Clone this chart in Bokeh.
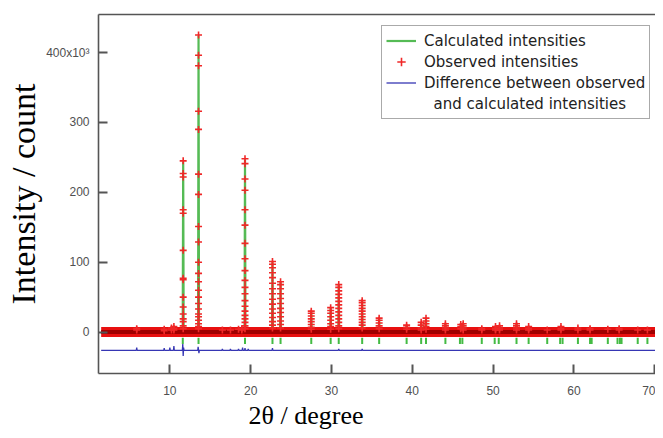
from bokeh.plotting import figure
from bokeh.models import LinearAxis, FixedTicker, Range1d, Legend, LegendItem, Title
from bokeh.embed import file_html
from bokeh.resources import INLINE

# ---- data (intensities in units of 10^3 counts, angles in degrees 2θ) ----
scan_start, scan_stop = 1.5, 70.95
background = 0.0

peak_pos = [5.9, 9.3, 10.2, 10.5, 11.65, 13.55, 16.5, 17.5, 18.5, 18.9, 19.3,
            22.7, 23.7, 27.5, 29.9, 30.9, 33.8, 35.9, 39.3, 41.1, 41.7, 44.1,
            46.0, 46.3, 48.6, 50.3, 50.8, 52.9, 54.4, 56.7, 58.4, 60.5, 62.0,
            64.2, 65.6, 67.9, 69.1]
peak_calc = [5, 4, 6, 8, 244, 424, 3, 3, 4, 5, 247, 100, 72, 30, 35, 68, 45,
             20, 10, 14, 20, 12, 11, 12, 5, 8, 9, 12, 8, 3, 8, 6, 5, 4, 5, 3, 3]
peak_obs = [
    [5, 3], [4, 2], [6, 3], [8, 5, 3],
    [245, 227, 222, 175, 170, 117, 77, 75, 50, 36, 26, 19, 15, 9, 5],
    [425, 396, 381, 316, 290, 226, 197, 151, 129, 100, 84, 72, 60, 50, 41, 33,
     26, 22, 17, 12, 8, 5],
    [3], [3], [4], [5, 3],
    [248, 241, 219, 203, 175, 153, 127, 105, 88, 74, 64, 55, 45, 37, 30, 24,
     19, 14, 9, 5],
    [101, 97, 92, 85, 78, 70, 62, 55, 47, 40, 33, 27, 21, 15, 10, 6],
    [72, 68, 62, 55, 48, 41, 34, 28, 22, 16, 11, 6],
    [30, 27, 23, 19, 15, 11, 7, 4],
    [35, 31, 27, 22, 17, 12, 8, 4],
    [68, 64, 59, 54, 49, 44, 39, 34, 29, 24, 19, 14, 9, 5],
    [45, 42, 38, 34, 30, 26, 22, 18, 14, 10, 6],
    [20, 17, 13, 9, 5],
    [10, 7, 4], [14, 10, 6, 3], [20, 16, 12, 8, 4], [12, 9, 6, 3],
    [11, 8, 5], [12, 9, 6, 3], [5, 3], [8, 5, 3], [9, 6, 3], [12, 9, 6, 3],
    [8, 5, 3], [3], [8, 5, 3], [6, 3], [5, 3], [4], [5, 3], [3], [3],
]
bragg_pos = [11.6, 13.55, 19.3, 22.7, 23.7, 27.5, 29.9, 30.9, 33.8, 35.9,
             39.3, 41.1, 41.7, 44.1, 45.9, 46.2, 48.6, 50.2, 50.7, 52.9, 54.4,
             56.7, 58.3, 58.6, 60.5, 62.0, 62.2, 64.2, 65.4, 65.7, 65.9, 67.9,
             69.1]
bragg_low, bragg_high = -17, -8
diff_x = [1.5, 5.85, 5.9, 5.95, 9.25, 9.3, 9.35, 9.95, 10.0, 10.05, 10.45,
          10.5, 10.55, 11.55, 11.6, 11.65, 11.7, 11.75, 13.45, 13.5, 13.6,
          13.65, 16.45, 16.5, 16.55, 17.45, 17.5, 17.55, 18.45, 18.5, 18.55,
          18.95, 19.0, 19.05, 19.25, 19.3, 19.35, 19.65, 19.7, 19.75, 22.65,
          22.7, 22.75, 30.85, 30.9, 30.95, 33.75, 33.8, 33.85, 70.95]
diff_y = [-26, -26, -22, -26, -26, -23, -26, -26, -22, -26, -26,
          -20, -26, -26, -17, -34, -22, -26, -26, -21, -30,
          -26, -26, -24, -26, -26, -24, -26, -26, -24, -26,
          -26, -22, -26, -26, -23, -26, -26, -24, -26, -26,
          -23, -26, -26, -24, -26, -26, -24, -26, -26]
y_ticks = [0, 100, 200, 300, 400]
x_ticks = [10, 20, 30, 40, 50, 60, 70]
x_min, x_max = 1.17, 70.1
y_min, y_max = -59.2, 454.4

# ---- derived drawing sources ----
calc_x, calc_y = [scan_start], [background]
for pos, h in zip(peak_pos, peak_calc):
    calc_x += [pos - 0.06, pos, pos + 0.06]
    calc_y += [background, h, background]
calc_x.append(scan_stop)
calc_y.append(background)

obs_x, obs_y = [], []
for pos, levels in zip(peak_pos, peak_obs):
    for v in levels:
        obs_x.append(pos)
        obs_y.append(v)

p = figure(width=655, height=430, output_backend="svg", toolbar_location=None,
           x_range=Range1d(x_min, x_max), y_range=Range1d(y_min, y_max),
           min_border_left=98, min_border_right=0, min_border_top=14,
           min_border_bottom=57)
p.outline_line_color = None
p.grid.visible = False
p.background_fill_color = "white"

# calculated profile
calc_r = p.line(calc_x, calc_y, line_color="#55bb55", line_width=2.2)
# observed: baseline band and peak points
base_r = p.line([scan_start, scan_stop], [background, background],
                line_color="#e81010", line_width=10)
p.line([scan_start, scan_stop], [background, background],
       line_color="#a00000", line_width=4)
obs_r = p.scatter(obs_x, obs_y, marker="cross", size=7, line_width=1.6,
                  line_color="#f02828")
# Bragg positions
p.segment(x0=bragg_pos, x1=bragg_pos, y0=[bragg_low] * len(bragg_pos),
          y1=[bragg_high] * len(bragg_pos), line_color="#44bb44", line_width=2)
# difference
diff_r = p.line(diff_x, diff_y, line_color="#3636b4", line_width=1.3)
dummy_r = p.line([], [], line_alpha=0)

axis_color = "#555555"
for ax in (p.xaxis[0], p.yaxis[0]):
    ax.axis_line_color = axis_color
    ax.axis_line_width = 1.6
    ax.major_tick_line_color = axis_color
    ax.major_tick_line_width = 2
    ax.major_tick_in = 9
    ax.major_tick_out = 0
    ax.minor_tick_line_color = None
    ax.major_label_text_font = "Liberation Sans"
    ax.major_label_text_font_size = "12px"
    ax.major_label_text_color = "#505050"

p.xaxis.ticker = FixedTicker(ticks=x_ticks)
p.xaxis.major_label_standoff = 12

p.yaxis.ticker = FixedTicker(ticks=y_ticks)
p.yaxis.major_label_overrides = {400: "400x10³"}
p.yaxis.major_label_standoff = 9
p.yaxis.axis_label = "Intensity / count"
p.yaxis.axis_label_text_font = "Liberation Serif"
p.yaxis.axis_label_text_font_size = "34px"
p.yaxis.axis_label_text_font_style = "normal"
p.yaxis.axis_label_text_color = "black"
p.yaxis.axis_label_standoff = 1

top_axis = LinearAxis(ticker=FixedTicker(ticks=[]), axis_line_color=axis_color,
                      axis_line_width=1.6, major_tick_line_color=None,
                      minor_tick_line_color=None)
p.add_layout(top_axis, "above")

p.add_layout(Title(text="2θ / degree", align="left", offset=150, standoff=2,
                   text_font="Liberation Serif", text_font_size="26px",
                   text_font_style="normal", text_color="black"), "below")

legend = Legend(items=[
    LegendItem(label="Calculated intensities", renderers=[calc_r]),
    LegendItem(label="Observed intensities", renderers=[obs_r]),
    LegendItem(label="Difference between observed", renderers=[diff_r]),
    LegendItem(label="\u00a0\u00a0and calculated intensities", renderers=[dummy_r]),
], location=(283, 254), margin=0, padding=4, spacing=0,
    label_height=21, glyph_height=21, glyph_width=30, label_standoff=8,
    label_text_font="DejaVu Sans", label_text_font_size="15px",
    label_text_color="#222222", border_line_color="#555555",
    border_line_width=1.5, background_fill_alpha=1.0)
p.add_layout(legend)

open("out.html", "w").write(file_html(p, INLINE))
